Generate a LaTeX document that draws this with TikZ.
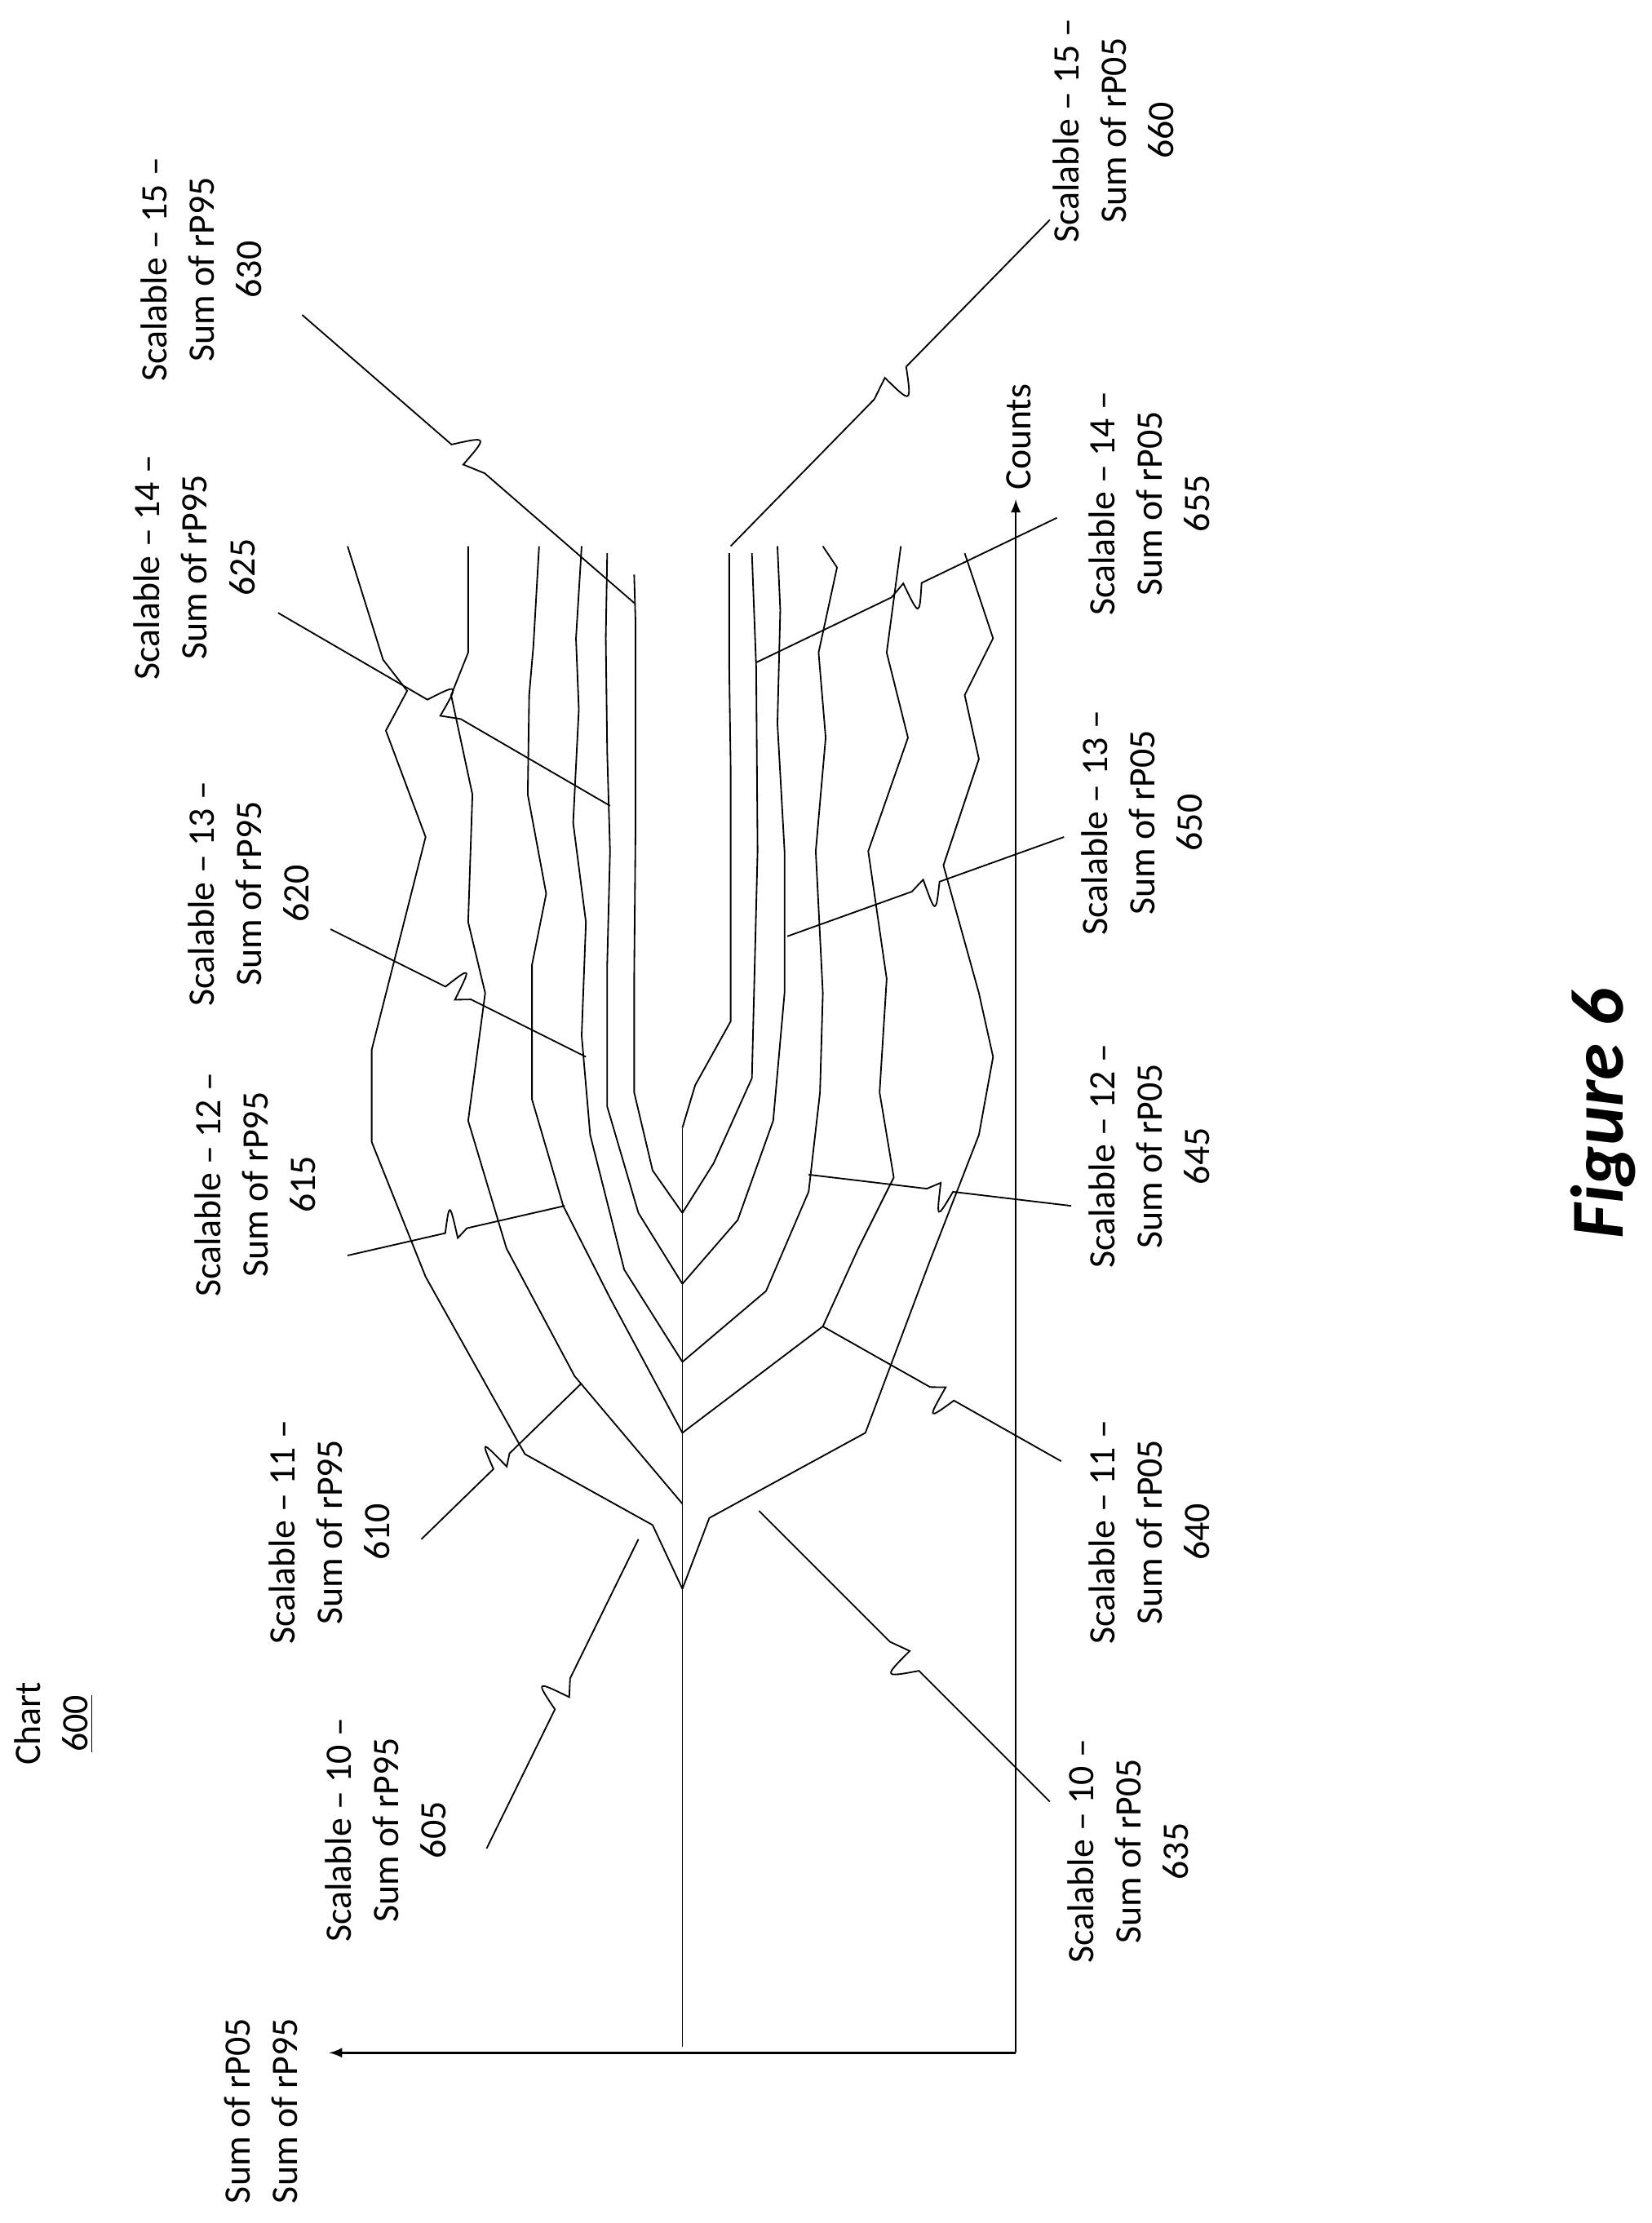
\documentclass[tikz,border=0pt]{standalone}
\usepackage{fontspec}
\setmainfont{Carlito}
\usetikzlibrary{calc}
\tikzset{
  lbl/.style={rotate=90, align=center, font=\fontsize{15}{19}\selectfont},
  curve/.style={line width=0.6pt},
}
\newcommand{\leader}[2]{%
  \draw[line width=0.6pt] (#1) -- ($(#1)!0.45!(#2)$) .. controls ($($(#1)!0.5!(#2)$)!12pt!90:(#2)$) ..
    ($($(#1)!0.5!(#2)$)!-3pt!90:(#2)$) -- ($(#1)!0.55!(#2)$) -- (#2);}
\begin{document}
\begin{tikzpicture}[x=0.02cm,y=-0.02cm]
\tikzset{>=latex}
\useasboundingbox (0,0) rectangle (1164,1567);

% axes
\coordinate (origin) at (716,1447);
\coordinate (ytip) at (716,352);
\coordinate (xtip) at (232,1447);
\draw[->,line width=0.8pt] (origin) -- (ytip);
\draw[->,line width=0.8pt] (origin) -- (xtip);
\node[lbl] (counts) at (718,308) {Counts};
\node[lbl] (sums) at (184,1488) {Sum of rP05\\Sum of rP95};
\node[lbl] (chart) at (38,1215) {Chart\\\underline{600}};
\node[rotate=90, font=\fontsize{30}{36}\selectfont\bfseries\itshape] (fig) at (1130,785) {Figure 6};

% center line
\draw[curve] (481,1443) -- (481,795);

% rP95 lines
\draw[curve] (481,1120) -- (460,1075) -- (370,1025) -- (300,900) -- (262,805) -- (262,740) -- (300,590) -- (272,515) -- (287,487) -- (270,465) -- (245,385);
\draw[curve] (481,1060) -- (405,970) -- (357,880) -- (330,790) -- (342,700) -- (330,650) -- (333,560) -- (318,490) -- (330,460) -- (330,385);
\draw[curve] (481,1010) -- (430,915) -- (397,850) -- (375,775) -- (375,680) -- (385,630) -- (372,560) -- (373,490) -- (376,455) -- (380,385);
\draw[curve] (481,960) -- (440,895) -- (416,800) -- (410,730) -- (413,650) -- (404,580) -- (408,500) -- (406,450) -- (410,385);
\draw[curve] (481,905) -- (450,855) -- (428,780) -- (428,680) -- (430,600) -- (428,530) -- (427,450) -- (428,390);
\draw[curve] (481,855) -- (460,825) -- (447,770) -- (447,690) -- (448,580) -- (448,500) -- (448,440) -- (447,405);

% rP05 lines
\draw[curve] (481,795) -- (490,765) -- (515,720) -- (515,640) -- (515,540) -- (514,470) -- (514,390);
\draw[curve] (481,855) -- (503,820) -- (530,760) -- (532,680) -- (534,600) -- (533,470) -- (530,390);
\draw[curve] (481,905) -- (520,860) -- (545,790) -- (553,700) -- (553,600) -- (548,510) -- (550,430) -- (548,385);
\draw[curve] (481,960) -- (540,910) -- (570,840) -- (578,770) -- (580,700) -- (575,600) -- (582,520) -- (577,460) -- (590,400) -- (580,385);
\draw[curve] (481,1010) -- (580,935) -- (605,880) -- (630,830) -- (620,770) -- (625,690) -- (612,600) -- (640,520) -- (625,460) -- (635,385);
\draw[curve] (481,1120) -- (500,1070) -- (610,1010) -- (655,890) -- (690,800) -- (700,745) -- (690,700) -- (665,610) -- (690,535) -- (680,490) -- (700,450) -- (680,390);

% labels
\node[lbl] (l605) at (272,1290) {Scalable -- 10 --\\Sum of rP95\\605};
\node[lbl] (l610) at (232,1080) {Scalable -- 11 --\\Sum of rP95\\610};
\node[lbl] (l615) at (180,835) {Scalable -- 12 --\\Sum of rP95\\615};
\node[lbl] (l620) at (175,630) {Scalable -- 13 --\\Sum of rP95\\620};
\node[lbl] (l625) at (137,400) {Scalable -- 14 --\\Sum of rP95\\625};
\node[lbl] (l630) at (142,190) {Scalable -- 15 --\\Sum of rP95\\630};
\node[lbl] (l635) at (795,1305) {Scalable -- 10 --\\Sum of rP05\\635};
\node[lbl] (l640) at (810,1080) {Scalable -- 11 --\\Sum of rP05\\640};
\node[lbl] (l645) at (810,815) {Scalable -- 12 --\\Sum of rP05\\645};
\node[lbl] (l650) at (805,580) {Scalable -- 13 --\\Sum of rP05\\650};
\node[lbl] (l655) at (810,355) {Scalable -- 14 --\\Sum of rP05\\655};
\node[lbl] (l660) at (785,92) {Scalable -- 15 --\\Sum of rP05\\660};

% leaders
\coordinate (a605) at (343,1303); \coordinate (b605) at (450,1085);
\coordinate (a610) at (297,1085); \coordinate (b610) at (410,975);
\coordinate (a615) at (245,885);  \coordinate (b615) at (398,850);
\coordinate (a620) at (233,655);  \coordinate (b620) at (413,745);
\coordinate (a625) at (196,432);  \coordinate (b625) at (430,568);
\coordinate (a630) at (213,222);  \coordinate (b630) at (447,425);
\coordinate (a635) at (740,1270); \coordinate (b635) at (535,1065);
\coordinate (a640) at (748,1030); \coordinate (b640) at (580,935);
\coordinate (a645) at (755,850);  \coordinate (b645) at (570,828);
\coordinate (a650) at (750,590);  \coordinate (b650) at (555,660);
\coordinate (a655) at (745,365);  \coordinate (b655) at (533,467);
\coordinate (a660) at (740,155);  \coordinate (b660) at (515,385);
\foreach \n in {605,610,615,620,625,630,635,640,645,650,655,660}
  {\leader{a\n}{b\n}}
\end{tikzpicture}
\end{document}
